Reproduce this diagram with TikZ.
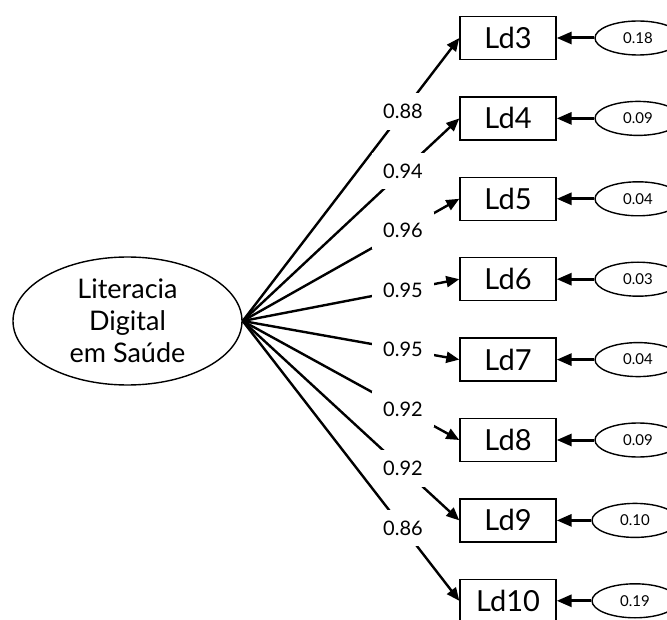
\documentclass[tikz,border=0pt]{standalone}
\usepackage{fontspec}
\setmainfont{Lato}
\usepackage{tikz}
\usetikzlibrary{shapes.geometric,arrows.meta}

\tikzset{
    latent/.style={ellipse,draw,line width=1.4pt,minimum width=229pt,minimum height=128pt,inner sep=0pt,align=center,font=\fontsize{27}{32}\selectfont},
    indic/.style={rectangle,draw,line width=1.4pt,minimum width=96pt,minimum height=43pt,inner sep=0pt,font=\fontsize{29}{34}\selectfont},
    errnode/.style={ellipse,draw,line width=1.4pt,minimum width=86pt,minimum height=34pt,inner sep=0pt,font=\fontsize{15}{17}\selectfont},
    loadarrow/.style={line width=2.4pt,-{Triangle[length=13pt,width=11pt]}},
    errarrow/.style={line width=3pt,-{Triangle[length=15pt,width=12pt]}},
    loadlabel/.style={fill=white,inner sep=11pt,pos=0.74,font=\fontsize{20}{22}\selectfont},
}

\begin{document}
\begin{tikzpicture}[x=1pt,y=-1pt]
    \useasboundingbox (0,0) rectangle (667,620);
    \clip (0,0) rectangle (667,620);

    \node[latent] (lat) at (127.5,321) {Literacia\\Digital\\em Saúde};

    \node[indic] (ld3) at (508,38) {Ld3};
    \node[indic] (ld4) at (508,118.4) {Ld4};
    \node[indic] (ld5) at (508,198.8) {Ld5};
    \node[indic] (ld6) at (508,279.2) {Ld6};
    \node[indic] (ld7) at (508,359.6) {Ld7};
    \node[indic] (ld8) at (508,440) {Ld8};
    \node[indic] (ld9) at (508,520.4) {Ld9};
    \node[indic] (ld10) at (508,600.8) {Ld10};

    \node[errnode] (e3) at (638,38) {0.18};
    \node[errnode] (e4) at (638,118.4) {0.09};
    \node[errnode] (e5) at (638,198.8) {0.04};
    \node[errnode] (e6) at (638,279.2) {0.03};
    \node[errnode] (e7) at (638,359.6) {0.04};
    \node[errnode] (e8) at (638,440) {0.09};
    \node[errnode] (e9) at (635,520.4) {0.10};
    \node[errnode] (e10) at (635,600.8) {0.19};

    \draw[loadarrow] (lat.east) -- node[loadlabel] (l3) {0.88} (ld3.west);
    \draw[loadarrow] (lat.east) -- node[loadlabel] (l4) {0.94} (ld4.west);
    \draw[loadarrow] (lat.east) -- node[loadlabel] (l5) {0.96} (ld5.west);
    \draw[loadarrow] (lat.east) -- node[loadlabel] (l6) {0.95} (ld6.west);
    \draw[loadarrow] (lat.east) -- node[loadlabel] (l7) {0.95} (ld7.west);
    \draw[loadarrow] (lat.east) -- node[loadlabel] (l8) {0.92} (ld8.west);
    \draw[loadarrow] (lat.east) -- node[loadlabel] (l9) {0.92} (ld9.west);
    \draw[loadarrow] (lat.east) -- node[loadlabel] (l10) {0.86} (ld10.west);

    \draw[errarrow] (e3) -- (ld3);
    \draw[errarrow] (e4) -- (ld4);
    \draw[errarrow] (e5) -- (ld5);
    \draw[errarrow] (e6) -- (ld6);
    \draw[errarrow] (e7) -- (ld7);
    \draw[errarrow] (e8) -- (ld8);
    \draw[errarrow] (e9) -- (ld9);
    \draw[errarrow] (e10) -- (ld10);
\end{tikzpicture}
\end{document}
